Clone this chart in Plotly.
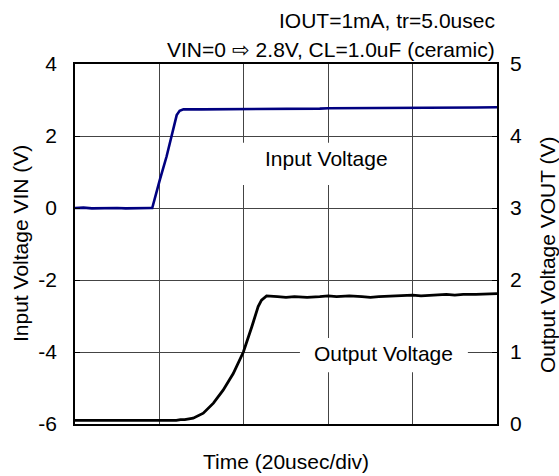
import plotly.graph_objects as go

# Time in usec (20 usec/div, 5 divisions)
t_in = [0, 2, 4, 6, 8, 10, 12, 14, 16, 18, 18.3, 19.2, 20.1, 21.7, 23.3, 24.1, 24.8, 25.7,
        30, 35, 40, 45, 50, 55, 58, 60, 65, 70, 75, 80, 85, 90, 95, 100]
v_in = [0.00, 0.01, -0.01, 0.00, 0.01, 0.00, -0.01, 0.00, 0.01, 0.00, 0.00, 0.40, 0.78, 1.43,
        2.17, 2.58, 2.70, 2.74, 2.74, 2.74, 2.745, 2.75, 2.745, 2.75, 2.76, 2.77, 2.77, 2.775,
        2.77, 2.78, 2.78, 2.785, 2.79, 2.80]

t_out = [0, 2, 4, 6, 8, 10, 12, 14, 16, 18, 20, 22, 24, 25, 26, 28, 30.4, 32.8, 35.1, 37.5,
         39.9, 41.9, 43.4, 44.2, 45.4, 48, 50, 52, 55, 58, 60, 62, 65, 68, 70, 72, 75, 78, 80,
         82, 85, 88, 90, 92, 95, 98, 100]
v_out = [0.05, 0.05, 0.04, 0.05, 0.04, 0.05, 0.04, 0.04, 0.05, 0.04, 0.05, 0.05, 0.05, 0.06,
         0.06, 0.08, 0.15, 0.29, 0.47, 0.70, 1.00, 1.35, 1.63, 1.72, 1.78, 1.77, 1.76, 1.77,
         1.76, 1.77, 1.78, 1.77, 1.78, 1.77, 1.76, 1.77, 1.78, 1.78, 1.79, 1.78, 1.79, 1.80,
         1.79, 1.80, 1.80, 1.81, 1.81]

left_ticks = [-6, -4, -2, 0, 2, 4]
left_tick_labels = ["-6", "-4", "-2", "0", "2", "4"]
right_ticks = [0, 1, 2, 3, 4, 5]
right_tick_labels = ["0", "1", "2", "3", "4", "5"]

FONT = "Liberation Sans, Arial, sans-serif"
FS = 21

fig = go.Figure()
fig.add_trace(go.Scatter(x=t_in, y=v_in, mode="lines", line=dict(color="#000080", width=2.6),
                         yaxis="y", showlegend=False))
fig.add_trace(go.Scatter(x=t_out, y=v_out, mode="lines", line=dict(color="#000000", width=2.8),
                         yaxis="y2", showlegend=False))

fig.update_layout(
    width=559, height=476,
    margin=dict(l=75, r=62, t=64, b=52),
    paper_bgcolor="white", plot_bgcolor="white",
    font=dict(family=FONT, size=FS, color="black"),
    xaxis=dict(range=[0, 100], dtick=20, showgrid=True, gridcolor="#444444", gridwidth=1,
               showticklabels=False, zeroline=False, showline=True, linecolor="black",
               linewidth=1.5, mirror=True, ticks=""),
    yaxis=dict(range=[-6, 4], tickvals=left_ticks, ticktext=left_tick_labels, showgrid=True,
               gridcolor="#444444", gridwidth=1, zeroline=False, showline=True,
               linecolor="black", linewidth=1.5, mirror=True, ticks="inside", ticklen=5,
               tickcolor="black", ticklabelstandoff=12, tickfont=dict(size=FS)),
    yaxis2=dict(range=[0, 5], tickvals=right_ticks, ticktext=right_tick_labels, overlaying="y",
                side="right", showgrid=False, zeroline=False, showline=False, ticks="inside",
                ticklen=5, tickcolor="black", ticklabelstandoff=12, tickfont=dict(size=FS)),
)

# white label boxes
fig.add_shape(type="rect", xref="paper", yref="paper", x0=0.386, x1=0.789, y0=0.664, y1=0.781,
              fillcolor="white", line=dict(width=0), layer="above")
fig.add_shape(type="rect", xref="paper", yref="paper", x0=0.533, x1=0.931, y0=0.144, y1=0.239,
              fillcolor="white", line=dict(width=0), layer="above")

ann = [
    dict(text="Input Voltage", x=0.596, y=0.737, xanchor="center", yanchor="middle"),
    dict(text="Output Voltage", x=0.732, y=0.197, xanchor="center", yanchor="middle"),
    dict(text="IOUT=1mA, tr=5.0usec", x=1.0, y=(424 - 20.5) / 360, xanchor="right", yanchor="middle"),
    dict(text="VIN=0 \u21e8 2.8V, CL=1.0uF (ceramic)", x=1.0, y=(424 - 50) / 360,
         xanchor="right", yanchor="middle"),
    dict(text="Time (20usec/div)", x=0.5, y=(424 - 461.7) / 360, xanchor="center", yanchor="middle"),
    dict(text="Input Voltage VIN (V)", x=(20 - 75) / 422, y=0.5, textangle=-90,
         xanchor="center", yanchor="middle"),
    dict(text="Output Voltage VOUT (V)", x=(547 - 75) / 422, y=(424 - 255) / 360, textangle=-90,
         xanchor="center", yanchor="middle"),
]
for a in ann:
    fig.add_annotation(xref="paper", yref="paper", showarrow=False,
                       font=dict(family=FONT, size=FS, color="black"), **a)

fig.write_html("out.html", config={"displayModeBar": False},
               post_script="document.body.style.margin='0';")
